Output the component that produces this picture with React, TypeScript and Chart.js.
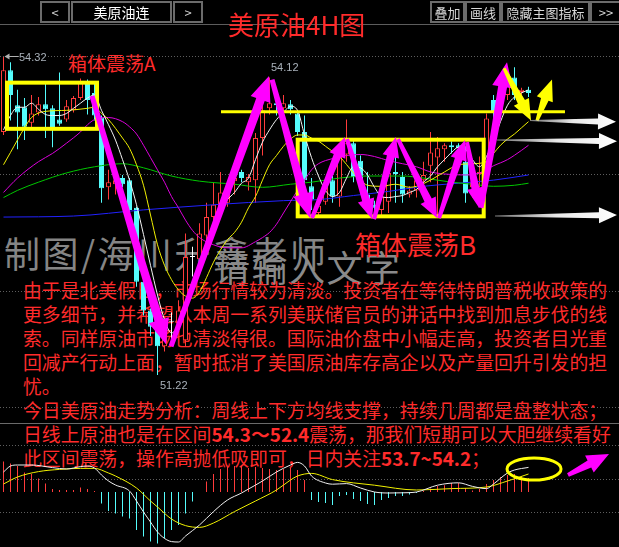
import React, { useEffect, useRef } from "react";
import { Chart, registerables } from "chart.js";

Chart.register(...registerables);

// ---------------- data ----------------
const opens = [53.59,54.19,53.85,53.83,53.68,53.78,53.86,53.82,53.71,53.71,53.80,53.92,54.07,53.97,53.73,53.05,53.08,53.14,53.12,52.85,52.13,51.85,51.68,51.50,51.74,51.72,51.56,52.37,52.35,52.58,52.76,52.86,52.90,53.11,53.20,53.10,53.12,53.53,53.82,53.87,53.82,53.86,53.77,53.59,53.06,52.80,52.91,53.12,52.96,53.37,53.48,53.31,52.98,52.88,52.83,52.91,53.20,53.15,52.98,53.02,53.12,53.26,53.34,53.42,53.46,53.46,53.30,53.05,53.18,53.17,53.90,53.78,53.95,54.12,53.98,54.00];
const highs = [54.32,54.27,54.00,53.92,53.95,53.93,54.06,53.85,54.17,53.90,53.94,54.11,54.10,54.07,53.75,53.22,53.20,53.17,53.14,52.86,52.15,51.87,51.72,51.78,51.83,51.95,52.60,52.47,52.70,52.90,53.10,53.20,53.10,53.15,53.22,53.18,53.58,53.87,54.12,53.90,53.95,53.90,53.80,53.75,53.14,52.90,53.14,53.16,53.44,53.71,53.52,53.36,53.20,52.92,53.00,53.22,53.48,53.20,53.06,53.20,53.30,53.59,53.54,53.48,53.50,53.48,53.45,53.15,53.35,53.77,53.95,54.05,54.15,54.22,54.02,54.03];
const lows = [53.56,53.70,53.42,53.51,53.62,53.75,53.53,53.44,53.65,53.69,53.78,53.90,53.76,53.70,52.90,52.93,52.98,53.05,52.78,52.08,51.80,51.60,51.22,51.45,51.53,51.65,51.50,52.18,52.30,52.50,52.72,52.80,52.86,52.98,53.10,53.02,52.90,53.36,53.76,53.75,53.77,53.76,53.55,53.07,52.83,52.76,52.88,52.90,52.86,53.30,53.10,53.08,52.85,52.78,52.77,52.80,52.90,52.90,52.95,52.95,53.05,53.10,52.76,53.30,53.38,53.38,52.90,52.95,53.05,53.10,53.72,53.75,53.90,53.90,53.95,53.93];
const closes = [54.19,53.95,53.78,53.64,53.77,53.86,53.81,53.62,53.67,53.84,53.92,54.07,53.90,53.75,53.04,53.10,53.12,53.08,52.83,52.13,51.85,51.69,51.50,51.72,51.74,51.85,52.37,52.37,52.60,52.76,52.88,53.00,53.04,53.14,53.14,53.15,53.53,53.80,53.87,53.85,53.87,53.81,53.59,53.12,52.93,52.87,53.07,52.96,53.38,53.48,53.15,53.12,52.88,52.85,52.96,53.19,53.18,52.98,53.02,53.12,53.17,53.39,53.43,53.46,53.44,53.43,52.99,53.10,53.20,53.72,53.78,53.96,54.12,53.95,54.00,53.97];

// moving averages: MA5 per candle, others as [candle index, price] readings
const ma5 = [53.61,53.75,53.83,53.83,53.87,53.81,53.76,53.75,53.75,53.77,53.82,53.87,53.92,53.95,53.80,53.66,53.51,53.32,53.12,52.88,52.59,52.29,52.00,51.76,51.63,51.71,51.90,52.10,52.32,52.49,52.65,52.83,52.93,53.00,53.09,53.14,53.32,53.49,53.61,53.71,53.78,53.84,53.80,53.56,53.34,53.16,53.02,52.96,53.00,53.14,53.25,53.24,53.17,53.05,52.96,52.95,52.96,52.97,53.00,53.03,53.10,53.16,53.25,53.32,53.39,53.44,53.42,53.32,53.25,53.35,53.51,53.69,53.85,53.93,53.97,54.00];
const ma10 = [[0,53.27],[1,53.39],[3,53.63],[4,53.73],[6,53.79],[9,53.80],[12,53.82],[13,53.83],[14,53.77],[15,53.71],[17,53.53],[18,53.43],[19,53.27],[20,53.07],[21,52.78],[22,52.49],[23,52.29],[24,52.15],[25,52.05],[26,51.99],[27,51.97],[28,52.03],[29,52.17],[30,52.32],[31,52.44],[32,52.54],[33,52.61],[34,52.71],[35,52.85],[36,52.96],[37,53.12],[38,53.27],[39,53.36],[40,53.45],[41,53.52],[42,53.56],[43,53.56],[44,53.53],[45,53.50],[46,53.45],[47,53.40],[48,53.35],[50,53.19],[51,53.12],[52,53.07],[54,53.06],[56,53.08],[58,53.05],[59,53.06],[61,53.12],[63,53.20],[65,53.27],[67,53.28],[69,53.30],[70,53.38],[71,53.46],[72,53.52],[73,53.57],[74,53.63],[75,53.69]];
const ma20 = [[0,53.00],[2,53.14],[5,53.30],[7,53.38],[9,53.48],[11,53.59],[12,53.66],[13,53.71],[15,53.73],[17,53.69],[18,53.64],[19,53.57],[20,53.46],[21,53.34],[22,53.22],[23,53.10],[24,52.96],[25,52.85],[26,52.73],[27,52.63],[28,52.56],[30,52.49],[32,52.46],[34,52.46],[36,52.52],[37,52.56],[38,52.61],[39,52.69],[40,52.80],[41,52.91],[42,53.02],[43,53.12],[44,53.22],[45,53.28],[47,53.33],[49,53.36],[51,53.37],[53,53.35],[55,53.31],[57,53.28],[59,53.25],[61,53.20],[63,53.18],[66,53.17],[68,53.19],[70,53.26],[72,53.32],[74,53.41],[75,53.46]];
const ma40 = [[0,52.95],[2,53.02],[5,53.10],[9,53.19],[13,53.25],[17,53.28],[20,53.24],[24,53.16],[28,53.11],[33,53.08],[37,53.05],[41,53.08],[44,53.10],[48,53.14],[52,53.16],[57,53.16],[60,53.14],[64,53.10],[67,53.08],[70,53.06],[73,53.07],[75,53.09]];
const ma60 = [[0,52.76],[10,52.77],[20,52.83],[30,52.88],[40,52.92],[45,52.93],[50,52.97],[55,53.01],[60,53.06],[65,53.09],[70,53.12],[75,53.17]];

// MACD
const macdHist = [0.152,0.143,0.13,0.098,0.09,0.068,0.043,0.015,0.01,0.01,0.01,0.022,0.015,0.005,
  -0.057,-0.095,-0.107,-0.123,-0.132,-0.19,-0.223,-0.248,-0.257,-0.232,-0.19,-0.165,-0.107,-0.048,0,
  0.052,0.09,0.115,0.125,0.13,0.13,0.12,0.125,0.12,0.115,0.11,0.115,0.12,0.11,0.06,
  -0.04,-0.05,-0.055,-0.065,-0.02,-0.015,-0.035,-0.045,-0.06,-0.065,-0.04,-0.03,-0.02,-0.02,-0.012,-0.005,
  0.005,0.017,0.03,0.034,0.045,0.045,0.02,0.008,0.015,0.04,0.06,0.075,0.085,0.09,0.08,0.07];
const macdDif = [[0,0.10],[1,0.13],[2,0.135],[4,0.135],[7,0.122],[9,0.115],[11,0.127],[12,0.13],[13,0.12],[14,0.085],[15,0.055],[16,0.035],[18,0.005],[19,-0.045],[20,-0.10],[21,-0.15],[22,-0.20],[23,-0.232],[24,-0.248],[25,-0.25],[26,-0.22],[28,-0.165],[30,-0.098],[32,-0.04],[34,-0.005],[35,0.015],[37,0.055],[39,0.10],[41,0.135],[42,0.148],[43,0.13],[44,0.08],[46,0.045],[47,0.039],[49,0.042],[51,0.02],[53,0.0],[55,-0.005],[57,-0.004],[59,0.0],[62,0.034],[65,0.046],[67,0.028],[69,0.017],[70,0.04],[72,0.095],[73,0.11],[75,0.123]];
const macdDea = [[0,0.04],[2,0.075],[5,0.102],[8,0.113],[11,0.118],[13,0.118],[15,0.095],[16,0.08],[19,0.02],[21,-0.045],[22,-0.075],[24,-0.135],[26,-0.168],[28,-0.177],[30,-0.155],[33,-0.098],[36,-0.045],[39,0.01],[41,0.06],[42,0.08],[44,0.093],[47,0.062],[53,0.034],[59,0.01],[64,0.017],[69,0.025],[72,0.055],[75,0.09]];

// reference levels
const gridPrices = [54.33, 53.18, 52.04, 50.91];
const gridMacd = [0.235, 0.065, -0.1];
const macdPanelTop = 0.345;

// annotations in data units: [index0, price0, index1, price1]
const boxA = [0.5, 54.07, 13.36, 53.62];
const boxB = [42.03, 53.514, 68.6, 52.767];
const yellowLevel = [31.07, 80.21, 53.787];
const magentaBig = [[12.64,53.94,23.21,51.52],[23.93,51.50,37.93,54.135],[38.36,54.10,43.79,52.75],[68.21,52.85,71.93,54.27]];
const magentaSmall = [[44.07,52.75,48.79,53.54],[49.07,53.52,52.64,52.74],[52.93,52.74,56.07,53.54],[56.36,53.52,61.93,52.75],[62.21,52.75,65.93,53.51],[66.21,53.49,67.93,52.85]];
const yellowArrows = [[71.5,54.21,75.36,53.70],[76.21,53.70,78.36,54.10]];
const whiteArrows = [[75.21,53.70,87.5,53.69],[70.5,53.51,87.64,53.50],[70.21,52.77,87.64,52.78]];
const macdArrow = [80.64, 0.085, 86.5, 0.19];
const macdEllipse = [75.79, 0.115];

const textLines = [
  "由于是北美假日，市场行情较为清淡。投资者在等待特朗普税收政策的",
  "更多细节，并希望从本周一系列美联储官员的讲话中找到加息步伐的线",
  "索。同样原油市场也清淡得很。国际油价盘中小幅走高，投资者目光重",
  "回减产行动上面，暂时抵消了美国原油库存高企以及产量回升引发的担",
  "忧。",
  "今日美原油走势分析：周线上下方均线支撑，持续几周都是盘整状态；",
];

// ---------------- styles ----------------
const RED = "#ff3b3b";
const CYAN = "#54fcfc";
const WHITE = "#ffffff";
const CJK = "'Noto Sans CJK SC', 'Noto Sans', sans-serif";

function arrow(ctx: CanvasRenderingContext2D, x0: number, y0: number, x1: number, y1: number, w0: number, w1: number, hw: number, hl: number) {
  const dx = x1 - x0, dy = y1 - y0;
  const len = Math.hypot(dx, dy);
  const ux = dx / len, uy = dy / len;
  const nx = -uy, ny = ux;
  const bx = x1 - ux * hl, by = y1 - uy * hl;
  ctx.beginPath();
  ctx.moveTo(x0 + nx * w0 / 2, y0 + ny * w0 / 2);
  ctx.lineTo(bx + nx * w1 / 2, by + ny * w1 / 2);
  ctx.lineTo(bx + nx * hw / 2, by + ny * hw / 2);
  ctx.lineTo(x1, y1);
  ctx.lineTo(bx - nx * hw / 2, by - ny * hw / 2);
  ctx.lineTo(bx - nx * w1 / 2, by - ny * w1 / 2);
  ctx.lineTo(x0 - nx * w0 / 2, y0 - ny * w0 / 2);
  ctx.closePath();
  ctx.fill();
}

const annotPlugin = {
  id: "annot",
  beforeDatasetsDraw(chart: any) {
    const { ctx } = chart;
    const ys = chart.scales.y, y2 = chart.scales.y2;
    ctx.save();
    ctx.lineWidth = 1;
    ctx.strokeStyle = "#5e5e5e";
    ctx.setLineDash([1, 2]);
    const hline = (yy: number) => {
      const r = Math.round(yy) + 0.5;
      ctx.beginPath(); ctx.moveTo(0, r); ctx.lineTo(chart.width, r); ctx.stroke();
    };
    gridPrices.forEach((p) => hline(ys.getPixelForValue(p)));
    gridMacd.forEach((v) => hline(y2.getPixelForValue(v)));
    ctx.setLineDash([]);
    ctx.strokeStyle = "#6a6a6a";
    hline(y2.getPixelForValue(macdPanelTop));
    ctx.restore();
  },
  afterDatasetsDraw(chart: any) {
    const { ctx } = chart;
    const xs = chart.scales.x, ys = chart.scales.y, y2 = chart.scales.y2;
    const X = (v: number) => xs.getPixelForValue(v);
    const Y = (v: number) => ys.getPixelForValue(v);
    const Y2 = (v: number) => y2.getPixelForValue(v);
    ctx.save();
    // boxes
    ctx.strokeStyle = "#ffff00";
    ctx.lineWidth = 4;
    [boxA, boxB].forEach((b) => {
      ctx.strokeRect(X(b[0]), Y(b[1]), X(b[2]) - X(b[0]), Y(b[3]) - Y(b[1]));
    });
    // level line
    ctx.lineWidth = 3;
    ctx.beginPath();
    ctx.moveTo(X(yellowLevel[0]), Y(yellowLevel[2]));
    ctx.lineTo(X(yellowLevel[1]), Y(yellowLevel[2]));
    ctx.stroke();
    // magenta arrows
    ctx.fillStyle = "#ff00ff";
    magentaBig.forEach((a) => arrow(ctx, X(a[0]), Y(a[1]), X(a[2]), Y(a[3]), 5, 9, 21, 25));
    magentaSmall.forEach((a) => arrow(ctx, X(a[0]), Y(a[1]), X(a[2]), Y(a[3]), 4, 8, 17, 20));
    arrow(ctx, X(macdArrow[0]), Y2(macdArrow[1]), X(macdArrow[2]), Y2(macdArrow[3]), 4, 8, 19, 22);
    // yellow arrows
    ctx.fillStyle = "#ffff00";
    yellowArrows.forEach((a) => arrow(ctx, X(a[0]), Y(a[1]), X(a[2]), Y(a[3]), 3, 8, 17, 21));
    // white arrows
    whiteArrows.forEach((a) => {
      const x0 = X(a[0]), x1 = X(a[2]);
      const g = ctx.createLinearGradient(x0, 0, x1, 0);
      g.addColorStop(0, "rgba(200,200,200,0.6)");
      g.addColorStop(0.5, "#e8e8e8");
      g.addColorStop(1, "#ffffff");
      ctx.fillStyle = g;
      arrow(ctx, x0, Y(a[1]), x1, Y(a[3]), 1, 6, 16, 18);
    });
    // ellipse
    ctx.strokeStyle = "#ffff00";
    ctx.lineWidth = 3;
    ctx.beginPath();
    ctx.ellipse(X(macdEllipse[0]), Y2(macdEllipse[1]), 27, 11, 0, 0, Math.PI * 2);
    ctx.stroke();
    // high marker
    const hx = X(0), hy = Math.round(Y(highs[0])) - 0.5;
    ctx.strokeStyle = "#b0b0b0";
    ctx.fillStyle = "#b0b0b0";
    ctx.lineWidth = 1;
    ctx.beginPath(); ctx.moveTo(hx + 2, hy); ctx.lineTo(hx + 15, hy); ctx.stroke();
    ctx.beginPath(); ctx.moveTo(hx + 1, hy); ctx.lineTo(hx + 6, hy - 3); ctx.lineTo(hx + 6, hy + 3); ctx.closePath(); ctx.fill();
    ctx.restore();
  },
};

const idx = opens.map((_, i) => i);
const candleColor = idx.map((i) => (closes[i] > opens[i] ? RED : closes[i] < opens[i] ? CYAN : WHITE));
const bodyFill = idx.map((i) => (closes[i] > opens[i] ? "#000000" : candleColor[i]));

const lineDs = (label: string, pts: { x: number; y: number }[], color: string, axis = "y") => ({
  type: "line" as const,
  label,
  data: pts,
  borderColor: color,
  borderWidth: 1,
  pointRadius: 0,
  cubicInterpolationMode: "monotone" as const,
  yAxisID: axis,
});
const pairs = (arr: number[][]) => arr.map(([x, y]) => ({ x, y }));

export default function App() {
  const ref = useRef<HTMLCanvasElement>(null);
  useEffect(() => {
    const chart = new Chart(ref.current as HTMLCanvasElement, {
      type: "bar",
      data: {
        datasets: [
          lineDs("MA5", ma5.map((y, x) => ({ x, y })), "#f5f5f5"),
          lineDs("MA10", pairs(ma10), "#f0f000"),
          lineDs("MA20", pairs(ma20), "#dc00dc"),
          lineDs("MA40", pairs(ma40), "#00c800"),
          lineDs("MA60", pairs(ma60), "#2222ff"),
          lineDs("DIF", pairs(macdDif), "#eeeeee", "y2"),
          lineDs("DEA", pairs(macdDea), "#f0f000", "y2"),
          {
            type: "bar",
            label: "body",
            data: idx.map((i) => ({ x: i, y: [opens[i], closes[i]] })),
            backgroundColor: bodyFill,
            borderColor: candleColor,
            borderWidth: 1,
            borderSkipped: false,
            barThickness: 5,
            grouped: false,
            inflateAmount: 0,
            minBarLength: 1,
            yAxisID: "y",
          } as any,
          {
            type: "bar",
            label: "wick",
            data: idx.map((i) => ({ x: i, y: [lows[i], highs[i]] })),
            backgroundColor: candleColor,
            borderWidth: 0,
            barThickness: 1,
            grouped: false,
            inflateAmount: 0,
            yAxisID: "y",
          } as any,
          {
            type: "bar",
            label: "MACD",
            data: macdHist.map((v, i) => ({ x: i, y: v })),
            backgroundColor: macdHist.map((v) => (v >= 0 ? RED : CYAN)),
            borderWidth: 0,
            barThickness: 1,
            grouped: false,
            inflateAmount: 0,
            yAxisID: "y2",
          } as any,
        ],
      },
      options: {
        responsive: false,
        animation: false,
        events: [],
        layout: { padding: 0 },
        plugins: { legend: { display: false }, tooltip: { enabled: false } },
        scales: {
          x: { type: "linear", min: -0.5, max: -0.5 + 619 / 7, display: false, offset: false },
          y: { type: "linear", min: 49.5443, max: 54.8756, display: false, beginAtZero: false },
          y2: { type: "linear", min: -0.275, max: 2.46, display: false, beginAtZero: false },
        },
      } as any,
      plugins: [annotPlugin],
    });
    return () => chart.destroy();
  }, []);

  const btn = (left: number, width: number, text: string, color: string, size = 13) => (
    <div
      style={{
        position: "absolute", left, top: 1, width, height: 22, boxSizing: "border-box",
        border: "2px solid #6b6b6b", color, fontFamily: CJK, fontSize: size,
        display: "flex", alignItems: "center", justifyContent: "center", background: "#000",
      }}
    >
      {text}
    </div>
  );
  const abs = (left: number, top: number, extra: React.CSSProperties): React.CSSProperties => ({
    position: "absolute", left, top, whiteSpace: "nowrap", ...extra,
  });
  const para: React.CSSProperties = { fontFamily: CJK, fontSize: 18.85, lineHeight: "24px", color: "#ff2b2b" };
  const priceLbl: React.CSSProperties = { fontFamily: "'Liberation Sans', Arial, sans-serif", fontSize: 11, lineHeight: "12px", color: "#a9b1ba", background: "#000" };

  return (
    <div style={{ position: "fixed", left: 0, top: 0, width: 619, height: 547, background: "#000", overflow: "hidden" }}>
      {/* text layer under the chart */}
      <div style={{ position: "absolute", left: 0, top: 0, width: 619, height: 547, zIndex: 1 }}>
        <div style={abs(4, 234, { fontFamily: CJK, fontSize: 36, lineHeight: "36px", color: "#858585", letterSpacing: 2.5 })}>制图/海川升鑫老师</div>
        <div style={abs(214, 248, { fontFamily: CJK, fontSize: 36, lineHeight: "36px", color: "#8a8a8a", letterSpacing: 1.5 })}>请输入文字</div>
        <div style={abs(68, 53, { fontFamily: CJK, fontSize: 19, lineHeight: "20px", color: "#ff2b2b" })}>箱体震荡A</div>
        <div style={abs(355, 230, { fontFamily: CJK, fontSize: 26, lineHeight: "28px", color: "#ff2b2b" })}>箱体震荡B</div>
        {textLines.map((t, k) => (
          <div key={k} style={abs(23, 278 + 24 * k, para)}>{t}</div>
        ))}
        <div style={abs(23, 422, para)}>
          日线上原油也是在区间<b>54.3～52.4</b>震荡，那我们短期可以大胆继续看好
        </div>
        <div style={abs(23, 446, para)}>
          此区间震荡，操作高抛低吸即可，日内关注<b>53.7~54.2</b>；
        </div>
      </div>
      <canvas ref={ref} width={619} height={547} style={{ position: "absolute", left: 0, top: 0, width: 619, height: 547, zIndex: 2 }} />
      {/* top layer */}
      <div style={{ position: "absolute", left: 0, top: 0, width: 619, height: 547, zIndex: 3, pointerEvents: "none" }}>
        <div style={{ position: "absolute", left: 0, top: 24, width: 619, height: 1, background: "#5d5d5d" }} />
        {btn(40, 30, "<", "#cfcfcf")}
        {btn(71, 101, "美原油连", "#ffffff", 14)}
        {btn(173, 30, ">", "#cfcfcf")}
        {btn(430, 35, "叠加", "#d8d8d8")}
        {btn(465, 36, "画线", "#d8d8d8")}
        {btn(501, 89, "隐藏主图指标", "#d8d8d8")}
        {btn(590, 32, ">>", "#d8d8d8")}
        <div style={abs(228, 10, { fontFamily: CJK, fontSize: 26, lineHeight: "28px", color: "#ff2b2b" })}>美原油4H图</div>
        <div style={abs(19, 51, priceLbl)}>54.32</div>
        <div style={abs(271, 61, priceLbl)}>54.12</div>
        <div style={abs(160, 379, priceLbl)}>51.22</div>
      </div>
    </div>
  );
}
